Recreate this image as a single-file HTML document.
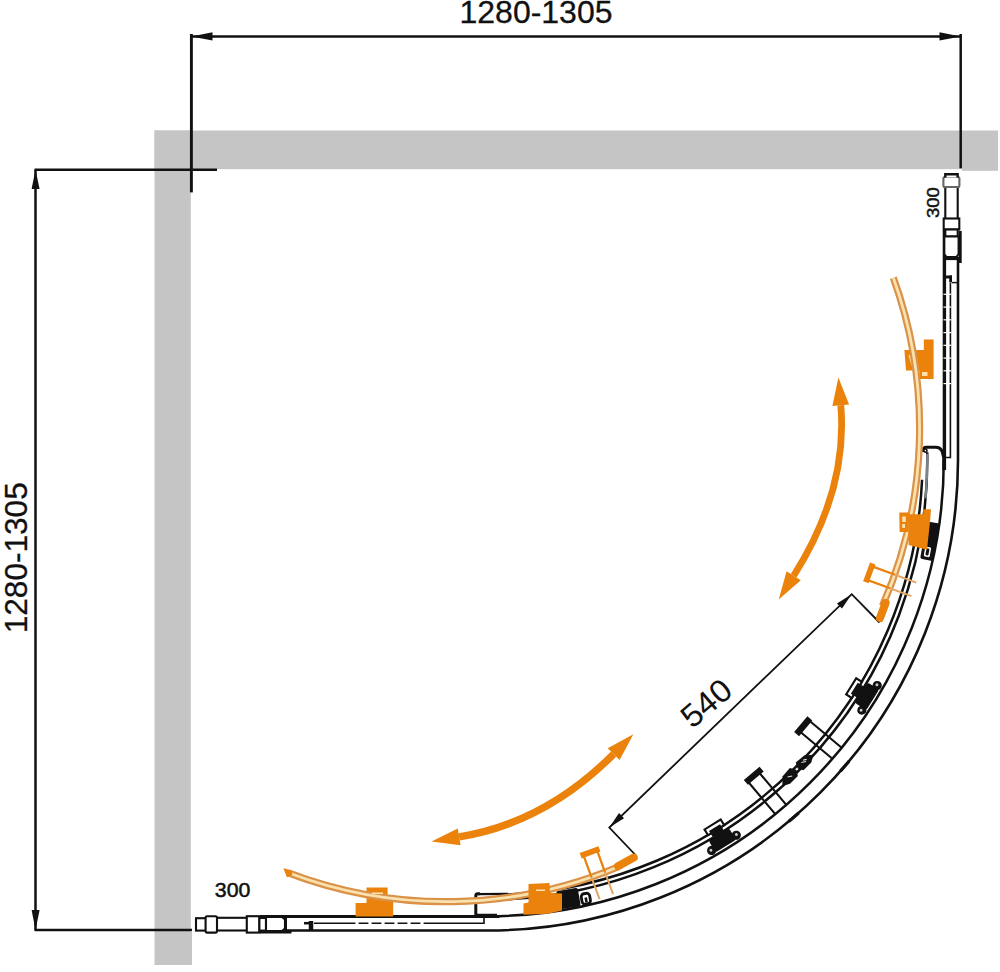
<!DOCTYPE html>
<html><head><meta charset="utf-8"><title>Shower enclosure diagram</title>
<style>html,body{margin:0;padding:0;background:#fff;}svg{display:block;}</style></head>
<body>
<svg width="1000" height="972" viewBox="0 0 1000 972">
<rect width="1000" height="972" fill="#fff"/>
<rect x="154.5" y="130.5" width="843.5" height="38.7" fill="#C5C5C5"/>
<rect x="154.5" y="130.5" width="36.3" height="834.5" fill="#C5C5C5"/>
<rect x="962" y="160" width="36" height="10.8" fill="#C5C5C5"/>
<rect x="185" y="932" width="7" height="33" fill="#C5C5C5"/>
<g stroke="#111" stroke-width="2.5" fill="none">
<path d="M191.4 36.6H960.7"/>
<path stroke-width="2.9" d="M191.4 34V192.4"/>
<path d="M960.7 34V168.3"/>
<path d="M35.5 169.8V930"/>
<path d="M34.5 169.8H217"/>
<path d="M34.5 930H192"/>
</g>
<g fill="#111">
<path d="M191.4 36.6L212.5 32.2V40.6Z"/>
<path d="M960.7 36.6L939.5 32.2V40.6Z"/>
<path d="M35.5 169.8L31.6 189H39.6Z"/>
<path d="M35.5 930L31.6 910H39.6Z"/>
</g>
<g font-family="Liberation Sans, sans-serif" fill="#111">
<text x="459.5" y="23" font-size="32" textLength="153" stroke="#111" stroke-width="0.3" lengthAdjust="spacingAndGlyphs">1280-1305</text>
<text transform="translate(26.6 633.3) rotate(-90)" font-size="32" textLength="151" stroke="#111" stroke-width="0.3" lengthAdjust="spacingAndGlyphs">1280-1305</text>
<text transform="translate(692.3 729.6) rotate(-40.5)" font-size="32" textLength="55.5" lengthAdjust="spacingAndGlyphs">540</text>
<text x="214.8" y="896.5" font-size="20.5" textLength="35.6" lengthAdjust="spacingAndGlyphs" stroke="#111" stroke-width="0.5">300</text>
<text transform="translate(939.3 218) rotate(-90)" font-size="16.8" textLength="30.8" lengthAdjust="spacingAndGlyphs" stroke="#111" stroke-width="0.5">300</text>
</g>
<g stroke="#111" stroke-width="1.8" fill="none">
<path d="M879.5 622.5L851.7 594.2L609.3 827.5L636 855.5"/>
</g>
<g fill="#111">
<path d="M851.70 594.20L836.96 603.39L841.95 608.58Z"/>
<path d="M609.30 827.50L624.04 818.31L619.05 813.12Z"/>
</g>
<g stroke="#111" fill="none">
<path stroke-width="2.6" d="M958.00 258 V460.0 A470.5 470.5 0 0 1 487.5 930.50 H286"/>
<path stroke-width="2.5" d="M943.80 460.0 A456.3 456.3 0 0 1 487.5 916.30"/>
<path stroke-width="3.4" d="M944.40 230 V470.0"/>
<path stroke-width="3" d="M260 916.50 H499.5"/>
<path stroke-width="3.2" d="M848.98 761.17 A470.50 470.50 0 0 1 840.43 771.15"/>
<path stroke-width="3.2" d="M798.65 812.93 A470.50 470.50 0 0 1 788.67 821.48"/>
<path stroke-width="1.6" d="M950.4 283V457.5H944.5"/>
<path stroke-width="1.4" d="M952 282.6H958.4"/>
<path stroke-width="3" d="M945 277H952"/>
<path stroke-width="2.8" d="M950.6 275.5V282.5"/>
<path stroke-width="1.6" d="M314 923.3H484V917"/>
<path stroke-width="4.5" d="M311 921V931"/>
<path stroke-width="2.5" d="M304 923.2H312"/>
</g>
<g stroke="#fff" stroke-width="1.2">
<path d="M943.5 294.3H951.2"/>
<path d="M943.5 307.1H951.2"/>
<path d="M943.5 319.8H951.2"/>
<path d="M943.5 332.6H951.2"/>
<path d="M943.5 345.3H951.2"/>
<path d="M943.5 358.1H951.2"/>
<path d="M943.5 370.8H951.2"/>
<path d="M943.5 383.6H951.2"/>
</g>
<g stroke="#fff" stroke-width="3.2">
<path d="M357.0 921.5V925"/>
<path d="M370.0 921.5V925"/>
<path d="M383.0 921.5V925"/>
<path d="M396.0 921.5V925"/>
<path d="M409.0 921.5V925"/>
<path d="M422.0 921.5V925"/>
</g>
<g stroke="#111" stroke-width="2.1" fill="#fff">
<rect x="945.3" y="186" width="12.4" height="33"/>
<rect x="943.4" y="177" width="16" height="10" rx="1.5" stroke="#666"/>
<path d="M945.3 177.5V174.2H957.6V177.5" stroke-width="2.4"/>
<rect x="943.7" y="218.5" width="15.6" height="11"/>
<rect x="945.3" y="229.5" width="12.4" height="7"/>
<path d="M944.3 236.5H958.6V254L956.5 257H946.5L944.3 254Z"/>
<rect x="216" y="917.8" width="31" height="12.7"/>
<rect x="196" y="918.2" width="10" height="12.4"/>
<rect x="205.6" y="916.2" width="11.4" height="16.4" rx="1.5"/>
<rect x="246.8" y="916.2" width="12.6" height="16.4"/>
<rect x="259.4" y="918" width="6.6" height="12.6"/>
<path d="M266 917H282L285 919.5V928.5L282 931H266Z"/>
</g>
<g stroke="#111" fill="none">
<path stroke-width="3" d="M960.2 231V263"/>
<path stroke-width="3.2" d="M943 258.5H960"/>
<path stroke-width="3" d="M260 932H291.5"/>
<path stroke-width="2.8" d="M285.6 916V932"/>
</g>
<g stroke="#111" fill="none" stroke-linejoin="round">
<path stroke-width="3" d="M923.6 452V449.5Q923.6 447.3 926 447.3H936Q940 447.3 942 451L943.8 458V470"/>
<circle cx="925.4" cy="450.6" r="1.6" stroke-width="1.6" fill="#fff"/>
<path stroke-width="3" d="M480 893.8H477.5Q475.8 893.8 475.8 896V915.3H497"/>
<path stroke-width="2.2" d="M477 894.2L508 893.8"/>
</g>
<g stroke="#111" stroke-width="2.5" fill="none">
<path d="M927.23 452.32 A439.80 439.80 0 0 1 491.34 899.78"/>
<path d="M922.05 479.73 A435.00 435.00 0 0 1 506.47 894.59"/>
</g>
<path d="M927.26 453.86 A439.80 439.80 0 0 1 925.63 498.33" stroke="#7a828c" stroke-width="2.2" fill="none"/>
<g transform="translate(487.50 460.00) rotate(-58.10)">
<rect x="-9.5" y="428.4" width="19" height="6.6" fill="#fff" stroke="#111" stroke-width="2.1"/>
<rect x="-12" y="440.3" width="24" height="13.5" rx="2" fill="#111"/>
<circle cx="-14.5" cy="450.0" r="4.6" fill="#111"/>
<circle cx="14.5" cy="450.0" r="4.6" fill="#111"/>
<circle cx="-15" cy="449.4" r="1.5" fill="#ccc"/>
<circle cx="15" cy="449.4" r="1.5" fill="#ccc"/>
<rect x="-6.5" y="432.0" width="13" height="9" fill="#111"/>
</g>
<g transform="translate(487.50 460.00) rotate(-31.70)">
<rect x="-9.5" y="428.4" width="19" height="6.6" fill="#fff" stroke="#111" stroke-width="2.1"/>
<rect x="-12" y="440.3" width="24" height="13.5" rx="2" fill="#111"/>
<circle cx="-14.5" cy="450.0" r="4.6" fill="#111"/>
<circle cx="14.5" cy="450.0" r="4.6" fill="#111"/>
<circle cx="-15" cy="449.4" r="1.5" fill="#ccc"/>
<circle cx="15" cy="449.4" r="1.5" fill="#ccc"/>
<rect x="-6.5" y="432.0" width="13" height="9" fill="#111"/>
</g>
<g transform="translate(487.50 460.00) rotate(-79.60)">
<rect x="-19" y="443.3" width="38" height="13" rx="2" fill="#111"/>
<rect x="-16" y="446.3" width="10" height="6" rx="1.5" fill="#fff"/>
<rect x="-14.5" y="447.8" width="7" height="3" rx="1" fill="#111"/>
</g>
<g transform="translate(487.50 460.00) rotate(-9.80)">
<rect x="-6" y="436.8" width="22" height="18.5" rx="2" fill="#111"/>
<rect x="18" y="443.8" width="8.5" height="10.5" rx="3" fill="#fff" stroke="#111" stroke-width="2.8"/>
<rect x="21" y="447.8" width="2.6" height="5" fill="#111"/>
</g>
<g transform="translate(487.50 460.00) rotate(-50.00)" stroke="#111" fill="none">
<path stroke-width="2.1" d="M-7.2 413V456.3M7.2 413V456.3"/>
<path stroke-width="6.4" d="M-11.3 413H9.3"/>
</g>
<g transform="translate(487.50 460.00) rotate(-40.00)" stroke="#111" fill="none">
<path stroke-width="2.1" d="M-7.2 413V456.3M7.2 413V456.3"/>
<path stroke-width="6.4" d="M-9.3 413H11.3"/>
</g>
<g transform="translate(487.50 460.00) rotate(-45.00)" fill="#111">
<path d="M-22 438.9L-15 432.4L-4 431.59999999999997L-0.5 437.4L-4 442.9L-15 442.9Z"/>
<path d="M22 438.9L15 432.9L4 431.9L1 437.4L4 442.9L15 442.9Z"/>
</g>
<g transform="translate(487.50 460.00) rotate(-45.00)" stroke="#ddd" stroke-width="1.1" fill="none">
<path d="M-12 436.4L-8 438.9M8 435.9L12 438.4M11 435.4L14 437.4"/>
</g>
<g fill="#EA820B">
<path d="M904.4 350H923.8V339.6H933.6V379H919.5V370.5H906Z"/>
<path d="M366.5 887.6H387.6V901H393.2V916.6H355.6V903H366.5Z"/>
</g>
<g fill="#FFE0A8">
<path d="M908.5 355L914 356L911.5 366Z"/>
<path d="M922 372H927.5V376H922Z"/>
</g>
<path d="M893.35 277.70 A444.00 444.00 0 0 1 882.47 605.85" stroke="#DA9148" stroke-width="7.2" fill="none"/>
<path d="M893.35 277.70 A444.00 444.00 0 0 1 882.47 605.85" stroke="#FAE2AE" stroke-width="2.8" fill="none"/>
<path d="M618.42 866.74 A443.60 443.60 0 0 1 288.27 872.79" stroke="#DA9148" stroke-width="7.2" fill="none"/>
<path d="M618.42 866.74 A443.60 443.60 0 0 1 288.27 872.79" stroke="#FAE2AE" stroke-width="2.8" fill="none"/>
<path d="M885.6 603L880 618" stroke="#EA820B" stroke-width="8" fill="none" stroke-linecap="round"/>
<path d="M618 866.3L633.8 857.6" stroke="#EA820B" stroke-width="8" fill="none" stroke-linecap="round"/>
<path d="M283.4 868.2L291.4 870.2L292.4 874.7L286.9 877.2Z" fill="#EA820B"/>
<g transform="translate(475.60 428.10) rotate(-69.80)" stroke="#EA820B" fill="none">
<path stroke="#E3A662" stroke-width="2.0" d="M-7.2 419.5V467M7.2 419.5V467"/>
<path stroke="#EA820B" stroke-width="2.0" d="M-7.2 419.5V444M7.2 419.5V444"/>
<path stroke-width="5.8" d="M-10 419.5H10"/>
</g>
<g transform="translate(445.80 458.10) rotate(-20.10)" stroke="#EA820B" fill="none">
<path stroke="#E3A662" stroke-width="2.0" d="M-7.2 419.8V467M7.2 419.8V467"/>
<path stroke="#EA820B" stroke-width="2.0" d="M-7.2 419.8V443.6M7.2 419.8V443.6"/>
<path stroke-width="5.8" d="M-10 419.8H10"/>
</g>
<g fill="#EA820B">
<path d="M908.1 514.3H923.2V509.3H931L930.2 520L927 549.8L908.6 545Z"/>
<path d="M899.3 512.5H908.6V532H899.6Z"/>
<path d="M528.5 884L549.5 883L550 893L562 893.5V910.5L548 913.8L523.5 914.8V903.5L528.5 902.5Z"/>
</g>
<g fill="#FFE3B0">
<path d="M536 889.5H545V891H536Z"/>
<path d="M372 892.5H383V894H372Z"/>
<path d="M902.2 516.5H905.8V522H902.2Z"/>
<path d="M902.2 524H905V528H902.2Z"/>
</g>
<path d="M840.8 405.3Q848.0 490.0 793.7 575.7" stroke="#EA820B" stroke-width="6.8" fill="none"/>
<path d="M838.4 377.4L849.1 404.6L832.4 406.0Z" fill="#EA820B"/>
<path d="M778.7 599.4L786.6 571.3L800.8 580.2Z" fill="#EA820B"/>
<path d="M613.6 754.1Q545.0 823.0 459.1 836.9" stroke="#EA820B" stroke-width="7.4" fill="none"/>
<path d="M633.4 734.3L619.6 760.1L607.7 748.2Z" fill="#EA820B"/>
<path d="M431.5 841.4L457.8 828.6L460.5 845.2Z" fill="#EA820B"/>
</svg>
</body></html>
